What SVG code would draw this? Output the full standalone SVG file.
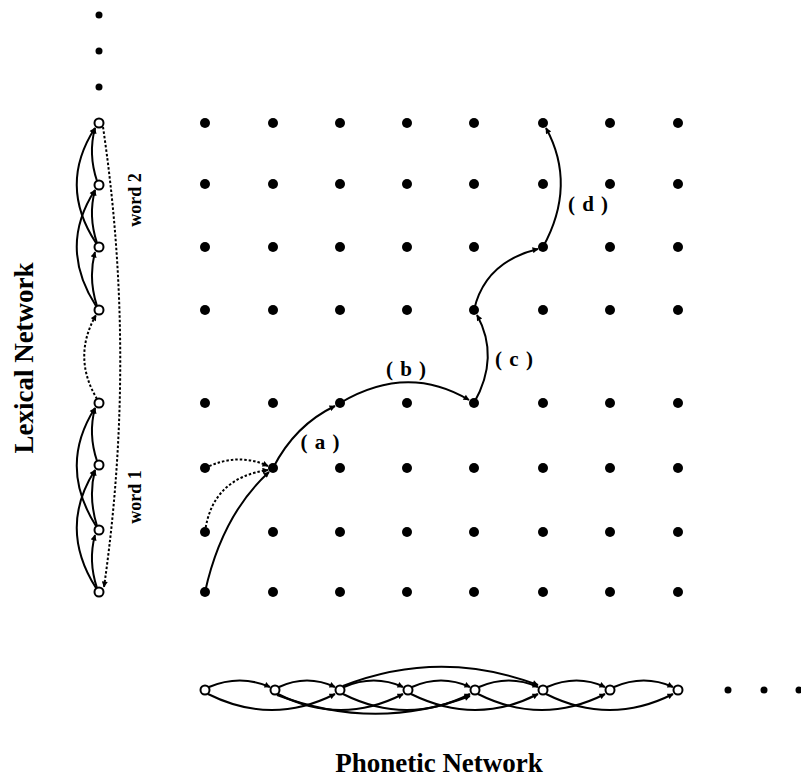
<svg xmlns="http://www.w3.org/2000/svg" width="801" height="777" viewBox="0 0 801 777">
<style>
.dot{fill:#000}
.open{fill:#fff;stroke:#000;stroke-width:2}
.e{fill:none;stroke:#000;stroke-width:2;marker-end:url(#ah)}
.d{fill:none;stroke:#000;stroke-width:2;stroke-dasharray:2.5,2;marker-end:url(#ah)}
.t{font-family:"Liberation Serif","Times New Roman",serif;font-weight:bold;fill:#000}
.lb{font-size:21px;word-spacing:2px}
</style>
<defs>
<marker id="ah" viewBox="0 0 10 10" refX="9" refY="5" markerWidth="8" markerHeight="6" markerUnits="userSpaceOnUse" orient="auto"><path d="M0,0 L10,5 L0,10 z" fill="#000"/></marker>
</defs>
<rect width="801" height="777" fill="#fff"/>

<g id="grid">
<g id="g-1-1"><circle class="dot" cx="205" cy="123" r="5"/></g><g id="g-1-2"><circle class="dot" cx="273" cy="123" r="5"/></g><g id="g-1-3"><circle class="dot" cx="340" cy="123" r="5"/></g><g id="g-1-4"><circle class="dot" cx="407" cy="123" r="5"/></g><g id="g-1-5"><circle class="dot" cx="474" cy="123" r="5"/></g><g id="g-1-6"><circle class="dot" cx="543" cy="123" r="5"/></g><g id="g-1-7"><circle class="dot" cx="610" cy="123" r="5"/></g><g id="g-1-8"><circle class="dot" cx="678" cy="123" r="5"/></g>
<g id="g-2-1"><circle class="dot" cx="205" cy="184" r="5"/></g><g id="g-2-2"><circle class="dot" cx="273" cy="184" r="5"/></g><g id="g-2-3"><circle class="dot" cx="340" cy="184" r="5"/></g><g id="g-2-4"><circle class="dot" cx="407" cy="184" r="5"/></g><g id="g-2-5"><circle class="dot" cx="474" cy="184" r="5"/></g><g id="g-2-6"><circle class="dot" cx="543" cy="184" r="5"/></g><g id="g-2-7"><circle class="dot" cx="610" cy="184" r="5"/></g><g id="g-2-8"><circle class="dot" cx="678" cy="184" r="5"/></g>
<g id="g-3-1"><circle class="dot" cx="205" cy="247" r="5"/></g><g id="g-3-2"><circle class="dot" cx="273" cy="247" r="5"/></g><g id="g-3-3"><circle class="dot" cx="340" cy="247" r="5"/></g><g id="g-3-4"><circle class="dot" cx="407" cy="247" r="5"/></g><g id="g-3-5"><circle class="dot" cx="474" cy="247" r="5"/></g><g id="g-3-6"><circle class="dot" cx="543" cy="247" r="5"/></g><g id="g-3-7"><circle class="dot" cx="610" cy="247" r="5"/></g><g id="g-3-8"><circle class="dot" cx="678" cy="247" r="5"/></g>
<g id="g-4-1"><circle class="dot" cx="205" cy="310" r="5"/></g><g id="g-4-2"><circle class="dot" cx="273" cy="310" r="5"/></g><g id="g-4-3"><circle class="dot" cx="340" cy="310" r="5"/></g><g id="g-4-4"><circle class="dot" cx="407" cy="310" r="5"/></g><g id="g-4-5"><circle class="dot" cx="474" cy="310" r="5"/></g><g id="g-4-6"><circle class="dot" cx="543" cy="310" r="5"/></g><g id="g-4-7"><circle class="dot" cx="610" cy="310" r="5"/></g><g id="g-4-8"><circle class="dot" cx="678" cy="310" r="5"/></g>
<g id="g-5-1"><circle class="dot" cx="205" cy="403" r="5"/></g><g id="g-5-2"><circle class="dot" cx="273" cy="403" r="5"/></g><g id="g-5-3"><circle class="dot" cx="340" cy="403" r="5"/></g><g id="g-5-4"><circle class="dot" cx="407" cy="403" r="5"/></g><g id="g-5-5"><circle class="dot" cx="474" cy="403" r="5"/></g><g id="g-5-6"><circle class="dot" cx="543" cy="403" r="5"/></g><g id="g-5-7"><circle class="dot" cx="610" cy="403" r="5"/></g><g id="g-5-8"><circle class="dot" cx="678" cy="403" r="5"/></g>
<g id="g-6-1"><circle class="dot" cx="205" cy="468" r="5"/></g><g id="g-6-2"><circle class="dot" cx="273" cy="468" r="5"/></g><g id="g-6-3"><circle class="dot" cx="340" cy="468" r="5"/></g><g id="g-6-4"><circle class="dot" cx="407" cy="468" r="5"/></g><g id="g-6-5"><circle class="dot" cx="474" cy="468" r="5"/></g><g id="g-6-6"><circle class="dot" cx="543" cy="468" r="5"/></g><g id="g-6-7"><circle class="dot" cx="610" cy="468" r="5"/></g><g id="g-6-8"><circle class="dot" cx="678" cy="468" r="5"/></g>
<g id="g-7-1"><circle class="dot" cx="205" cy="532" r="5"/></g><g id="g-7-2"><circle class="dot" cx="273" cy="532" r="5"/></g><g id="g-7-3"><circle class="dot" cx="340" cy="532" r="5"/></g><g id="g-7-4"><circle class="dot" cx="407" cy="532" r="5"/></g><g id="g-7-5"><circle class="dot" cx="474" cy="532" r="5"/></g><g id="g-7-6"><circle class="dot" cx="543" cy="532" r="5"/></g><g id="g-7-7"><circle class="dot" cx="610" cy="532" r="5"/></g><g id="g-7-8"><circle class="dot" cx="678" cy="532" r="5"/></g>
<g id="g-8-1"><circle class="dot" cx="205" cy="592" r="5"/></g><g id="g-8-2"><circle class="dot" cx="273" cy="592" r="5"/></g><g id="g-8-3"><circle class="dot" cx="340" cy="592" r="5"/></g><g id="g-8-4"><circle class="dot" cx="407" cy="592" r="5"/></g><g id="g-8-5"><circle class="dot" cx="474" cy="592" r="5"/></g><g id="g-8-6"><circle class="dot" cx="543" cy="592" r="5"/></g><g id="g-8-7"><circle class="dot" cx="610" cy="592" r="5"/></g><g id="g-8-8"><circle class="dot" cx="678" cy="592" r="5"/></g>
</g>

<g id="connectors">
<!-- search path -->
<path class="e" d="M205,592 Q222,515 269,472"/>
<path class="e" d="M273,468 Q295,425 335,406"/>
<path class="d" d="M205,468 Q238,452 268,466"/>
<path class="d" d="M205,532 Q212,478 268,470"/>
<path class="e" d="M340,403 Q407,363 469,400"/>
<path class="e" d="M474,403 Q500,357 477,315"/>
<path class="e" d="M474,310 Q485,262 538,249"/>
<path class="e" d="M543,247 Q577,185 546,128"/>
<!-- lexical network -->
<path class="e" d="M97,588 Q88,561 95,535"/>
<path class="e" d="M97,526 Q88,497 95,470"/>
<path class="e" d="M97,461 Q88,434 95,408"/>
<path class="e" d="M97,306 Q88,278 95,252"/>
<path class="e" d="M97,243 Q88,216 95,190"/>
<path class="e" d="M97,181 Q88,154 95,128"/>
<path class="e" d="M96,588 Q58,528 95,470"/>
<path class="e" d="M96,526 Q58,466 95,408"/>
<path class="e" d="M96,306 Q58,247 95,190"/>
<path class="e" d="M96,243 Q58,185 95,128"/>
<path class="d" d="M97,399 Q72,357 96,315"/>
<path class="d" d="M103,127 Q137,357 104,587"/>
<!-- phonetic network -->
<path class="e" d="M209,687 Q240,674 270,687"/>
<path class="e" d="M279,687 Q307,674 335,687"/>
<path class="e" d="M344,687 Q374,674 403,687"/>
<path class="e" d="M412,687 Q441,674 470,687"/>
<path class="e" d="M479,687 Q509,674 538,687"/>
<path class="e" d="M547,687 Q577,674 605,687"/>
<path class="e" d="M614,687 Q644,674 673,687"/>
<path class="e" d="M208,694 Q272,726 335,694"/>
<path class="e" d="M278,694 Q341,726 403,694"/>
<path class="e" d="M343,694 Q407,726 470,694"/>
<path class="e" d="M411,694 Q476,726 538,694"/>
<path class="e" d="M478,694 Q542,726 605,694"/>
<path class="e" d="M546,694 Q610,726 673,694"/>
<path class="e" d="M343,686 Q440,648 538,685"/>
<path class="e" d="M277,695 Q375,732 470,696"/>
</g>

<g id="lexical">
<g id="lex-dots"><circle class="dot" cx="99" cy="15" r="3.5"/><circle class="dot" cx="99" cy="51" r="3.5"/><circle class="dot" cx="99" cy="87" r="3.5"/></g>
<g id="lex-8"><circle class="open" cx="99" cy="123" r="4.5"/></g>
<g id="lex-7"><circle class="open" cx="99" cy="185" r="4.5"/></g>
<g id="lex-6"><circle class="open" cx="99" cy="247" r="4.5"/></g>
<g id="lex-5"><circle class="open" cx="99" cy="310" r="4.5"/></g>
<g id="lex-4"><circle class="open" cx="99" cy="403" r="4.5"/></g>
<g id="lex-3"><circle class="open" cx="99" cy="465" r="4.5"/></g>
<g id="lex-2"><circle class="open" cx="99" cy="530" r="4.5"/></g>
<g id="lex-1"><circle class="open" cx="99" cy="592" r="4.5"/></g>
</g>

<g id="phonetic">
<g id="ph-1"><circle class="open" cx="205" cy="690" r="4.5"/></g>
<g id="ph-2"><circle class="open" cx="275" cy="690" r="4.5"/></g>
<g id="ph-3"><circle class="open" cx="340" cy="690" r="4.5"/></g>
<g id="ph-4"><circle class="open" cx="408" cy="690" r="4.5"/></g>
<g id="ph-5"><circle class="open" cx="475" cy="690" r="4.5"/></g>
<g id="ph-6"><circle class="open" cx="543" cy="690" r="4.5"/></g>
<g id="ph-7"><circle class="open" cx="610" cy="690" r="4.5"/></g>
<g id="ph-8"><circle class="open" cx="678" cy="690" r="4.5"/></g>
<g id="ph-dots"><circle class="dot" cx="728" cy="690" r="3.5"/><circle class="dot" cx="764" cy="690" r="3.5"/><circle class="dot" cx="799" cy="690" r="3.5"/></g>
</g>

<g id="labels">
<text class="t lb" x="320" y="449" text-anchor="middle">( a )</text>
<text class="t lb" x="406" y="376" text-anchor="middle">( b )</text>
<text class="t lb" x="514" y="366" text-anchor="middle">( c )</text>
<text class="t lb" x="588" y="211" text-anchor="middle">( d )</text>
<text class="t" font-size="18" text-anchor="middle" transform="translate(141,200) rotate(-90)">word 2</text>
<text class="t" font-size="18" text-anchor="middle" transform="translate(141,497) rotate(-90)">word 1</text>
<text class="t" font-size="27" text-anchor="middle" transform="translate(33,358) rotate(-90)">Lexical Network</text>
<text class="t" font-size="27" x="439" y="772" text-anchor="middle">Phonetic Network</text>
</g>
</svg>
